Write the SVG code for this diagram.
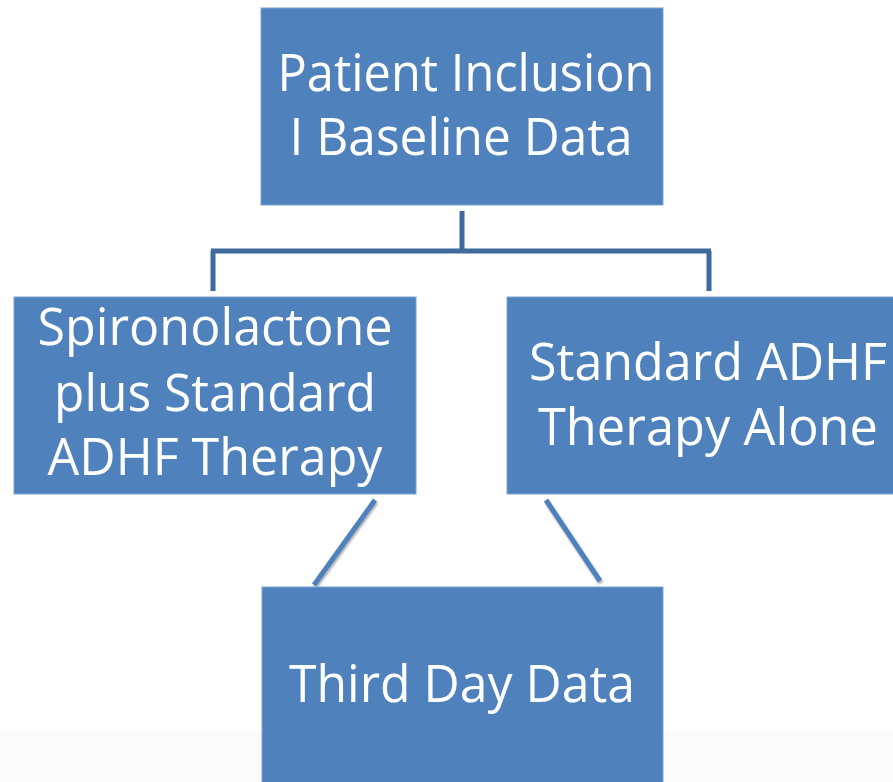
<svg xmlns="http://www.w3.org/2000/svg" width="893" height="782" viewBox="0 0 893 782">
  <style>
    .box { fill: #4F81BD; stroke: #7EA1CF; stroke-width: 1; }
    .label { font-family: "Open Sans", "Noto Sans", "Liberation Sans", sans-serif; font-size: 51px; fill: #FFFFFF; text-anchor: middle; }
    .tree { fill: none; stroke: #3E6A9C; stroke-width: 5; stroke-linecap: butt; }
    .link { fill: none; stroke: #4F81BD; stroke-width: 5; }
  </style>
  <defs>
    <filter id="shadow" x="-20%" y="-20%" width="140%" height="140%">
      <feDropShadow dx="1" dy="2" stdDeviation="1.2" flood-color="#000000" flood-opacity="0.35"/>
    </filter>
  </defs>

  <rect x="0" y="0" width="893" height="782" fill="#FFFFFF"/>
  <rect x="0" y="730" width="893" height="52" fill="#FBFBFB"/>

  <!-- connectors -->
  <g id="connectors">
    <path class="tree" d="M462 211 V251 M211 251 H711 M213 251 V291 M709 251 V291"/>
    <line class="link" x1="375" y1="500" x2="314" y2="585" filter="url(#shadow)"/>
    <line class="link" x1="546" y1="500" x2="600" y2="581" filter="url(#shadow)"/>
  </g>

  <g id="node-baseline">
    <rect class="box" x="261" y="8" width="402" height="197"/>
    <text class="label" x="466" y="91" textLength="377" lengthAdjust="spacingAndGlyphs">Patient Inclusion</text>
    <text class="label" x="461" y="155" textLength="343" lengthAdjust="spacingAndGlyphs">I Baseline Data</text>
  </g>

  <g id="node-spironolactone">
    <rect class="box" x="14" y="297" width="402" height="197"/>
    <text class="label" x="215" y="345" textLength="355" lengthAdjust="spacingAndGlyphs">Spironolactone</text>
    <text class="label" x="215" y="411" textLength="322" lengthAdjust="spacingAndGlyphs">plus Standard</text>
    <text class="label" x="215" y="475" textLength="335" lengthAdjust="spacingAndGlyphs">ADHF Therapy</text>
  </g>

  <g id="node-standard">
    <rect class="box" x="507" y="297" width="402" height="197"/>
    <text class="label" x="708" y="380" textLength="358" lengthAdjust="spacingAndGlyphs">Standard ADHF</text>
    <text class="label" x="708" y="445" textLength="340" lengthAdjust="spacingAndGlyphs">Therapy Alone</text>
  </g>

  <g id="node-third-day">
    <rect class="box" x="262" y="587" width="401" height="200"/>
    <text class="label" x="462" y="702" textLength="346" lengthAdjust="spacingAndGlyphs">Third Day Data</text>
  </g>
</svg>
